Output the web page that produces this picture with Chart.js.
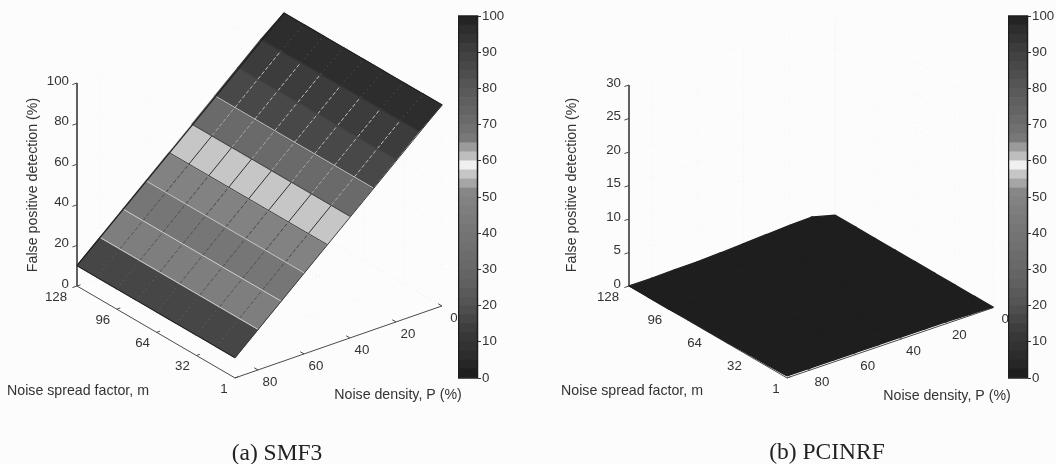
<!DOCTYPE html>
<html>
<head>
<meta charset="utf-8">
<title>False positive detection</title>
<script src="https://cdn.jsdelivr.net/npm/chart.js@4/dist/chart.umd.min.js"></script>
<style>
  html, body { margin: 0; padding: 0; background: #fcfcfc; overflow: hidden; }
  #page { position: relative; width: 1056px; height: 464px; }
  canvas { position: absolute; top: 0; }
</style>
</head>
<body>
<div id="page">
  <canvas id="panelA" width="528" height="464" style="left:0"></canvas>
  <canvas id="panelB" width="528" height="464" style="left:528px"></canvas>
  <canvas id="barA" width="60" height="464" style="left:458px"></canvas>
  <canvas id="barB" width="60" height="464" style="left:1008px"></canvas>
</div>
<script>
// axes
const pValues = [90, 80, 70, 60, 50, 40, 30, 20, 10, 0];
const mValues = [1, 16, 32, 48, 64, 80, 96, 112, 128];
const pTicks = [0, 20, 40, 60, 80];
const mTicks = [128, 96, 64, 32, 1];
const zTicksA = [0, 20, 40, 60, 80, 100];
const zTicksB = [0, 5, 10, 15, 20, 25, 30];
const barTicks = [0, 10, 20, 30, 40, 50, 60, 70, 80, 90, 100];

// (a) SMF3, height of each row of the surface (same across m)
const smf3Heights = [10, 20, 30, 40, 50, 60, 70, 80, 90, 99];
// colour value of each band, front to back
const smf3Bands = [16, 45, 42, 48, 57, 72, 85, 92, 96];

// (b) PCINRF, one row per P, one value per m
const pcinrfHeights = [
  [0.3, 0.2, 0.2, 0.1, 0.1, 0.1, 0, 0, 0],
  [0.3, 0.2, 0.2, 0.1, 0.1, 0.1, 0, 0, 0],
  [0.3, 0.3, 0.2, 0.2, 0.1, 0.1, 0.1, 0.1, 0.1],
  [0.3, 0.3, 0.2, 0.2, 0.2, 0.1, 0.1, 0.1, 0.15],
  [0.3, 0.3, 0.3, 0.2, 0.2, 0.2, 0.2, 0.2, 0.3],
  [0.3, 0.3, 0.3, 0.3, 0.3, 0.3, 0.3, 0.4, 0.5],
  [0.3, 0.3, 0.3, 0.3, 0.4, 0.4, 0.5, 0.6, 0.7],
  [0.3, 0.3, 0.3, 0.4, 0.5, 0.6, 0.7, 0.8, 0.9],
  [0.2, 0.2, 0.3, 0.4, 0.5, 0.7, 0.8, 0.9, 1.0],
  [0.1, 0.1, 0.1, 0.1, 0.1, 0.1, 0.1, 0.1, 0.1]
];

// colorbar grey levels, 2.5 % per step, from 0 to 100
const barGreys = [30, 38, 44, 50, 55, 62, 70, 78, 85, 90, 96, 100, 105, 108, 112, 115, 118, 122, 126, 130,
  135, 165, 198, 240, 190, 155, 120, 112, 106, 100, 95, 90, 85, 78, 72, 66, 60, 52, 45, 36];

// line styles of the mesh on (a)
const rowLineGreys = [30, 205, 210, 195, 60, 70, 195, 70, 55, 30];
const colLineGreys = [105, 85, 80, 70, 50, 165, 180, 190, 95];

const grey = g => `rgb(${g},${g},${g})`;
const shade = v => grey(barGreys[Math.min(barGreys.length - 1, Math.floor(v / 2.5))]);

// projection of the 3d box: the m=128,P=90,z=0 corner and the px per unit on each axis
function projector(view) {
  return (p, m, z) => ({
    x: view.x0 + (90 - p) * view.px + (128 - m) * view.mx,
    y: view.y0 - (90 - p) * view.py + (128 - m) * view.my - z * view.zy
  });
}

function line(points, color, width, dash) {
  return {
    data: points, showLine: true, pointRadius: 0, fill: false, tension: 0,
    borderColor: color, borderWidth: width, borderDash: dash || []
  };
}

function wallGrid(proj, zTicks) {
  const sets = [];
  const c = '#f2f2f2', dash = [1, 3];
  const zMax = zTicks[zTicks.length - 1];
  zTicks.forEach(z => {
    sets.push(line([proj(90, 128, z), proj(0, 128, z), proj(0, 1, z)], c, 1, dash));
  });
  pTicks.forEach(p => {
    sets.push(line([proj(p, 1, 0), proj(p, 128, 0), proj(p, 128, zMax)], c, 1, dash));
  });
  mTicks.forEach(m => {
    sets.push(line([proj(90, m, 0), proj(0, m, 0), proj(0, m, zMax)], c, 1, dash));
  });
  return sets;
}

function axes(proj, zTicks) {
  const c = '#4a4a4a';
  const zMax = zTicks[zTicks.length - 1];
  const sets = [
    line([proj(90, 128, zMax), proj(90, 128, 0)], c, 1),
    line([proj(90, 128, 0), proj(90, 1, 0)], c, 1),
    line([proj(90, 1, 0), proj(0, 1, 0)], c, 1)
  ];
  zTicks.forEach(z => sets.push(line([proj(90, 128, z), proj(92, 128, z)], c, 1)));
  mTicks.forEach(m => sets.push(line([proj(90, m, 0), proj(88.5, m, 0)], c, 1)));
  pTicks.forEach(p => sets.push(line([proj(p, 1, 0), proj(p, 4, 0)], c, 1)));
  return sets;
}

function cell(proj, heightAt, r, c, color) {
  const pts = [
    proj(pValues[r], mValues[c], heightAt(r, c)),
    proj(pValues[r], mValues[c + 1], heightAt(r, c + 1)),
    proj(pValues[r + 1], mValues[c + 1], heightAt(r + 1, c + 1)),
    proj(pValues[r + 1], mValues[c], heightAt(r + 1, c))
  ];
  pts.push(pts[0]);
  return {
    data: pts, showLine: true, pointRadius: 0, tension: 0, fill: 'shape',
    backgroundColor: color, borderColor: color, borderWidth: 1.2
  };
}

function surfaceA(proj) {
  const h = r => smf3Heights[r];
  const sets = [];
  smf3Bands.forEach((v, r) => {
    mValues.slice(0, -1).forEach((_, c) => sets.push(cell(proj, h, r, c, shade(v))));
  });
  // lines along P, one piece per band
  mValues.slice(1, -1).forEach(m => {
    smf3Bands.forEach((_, r) => {
      const dash = r === 0 || r === 8 ? [1, 4] : r === 4 ? [] : [4, 2];
      sets.push(line([proj(pValues[r], m, h(r)), proj(pValues[r + 1], m, h(r + 1))], grey(colLineGreys[r]), 1, dash));
    });
  });
  // lines along m
  smf3Heights.forEach((z, r) => {
    sets.push(line([proj(pValues[r], 128, z), proj(pValues[r], 1, z)], grey(rowLineGreys[r]), 1));
  });
  // outline on the two long sides
  sets.push(line([proj(90, 128, h(0)), proj(0, 128, h(9))], grey(30), 1.2));
  sets.push(line([proj(90, 1, h(0)), proj(0, 1, h(9))], grey(60), 1));
  return sets;
}

function surfaceB(proj) {
  const h = (r, c) => pcinrfHeights[r][c];
  const sets = [];
  pValues.slice(0, -1).forEach((_, r) => {
    mValues.slice(0, -1).forEach((_, c) => sets.push(cell(proj, h, r, c, shade(h(r, c)))));
  });
  return sets;
}

// axis text of one panel, placed with the chart's own scales
function textPlugin(proj, cfg) {
  return {
    id: 'panelText',
    afterDraw(chart) {
      const { ctx, scales } = chart;
      const at = pt => ({ x: scales.x.getPixelForValue(pt.x), y: scales.y.getPixelForValue(pt.y) });
      const put = (t, x, y, align) => { ctx.textAlign = align || 'center'; ctx.fillText(t, x, y); };
      ctx.save();
      ctx.fillStyle = '#333333';
      ctx.textBaseline = 'middle';
      ctx.font = '13.3px "Liberation Sans", Arial, sans-serif';
      cfg.zTicks.forEach(z => {
        const a = at(proj(90, 128, z));
        put(String(z), a.x - 8, a.y - 2, 'right');
      });
      mTicks.forEach(m => {
        const a = at(proj(90, m, 0));
        put(String(m), a.x + (m === 128 ? -21 : m === 1 ? -11 : -14), a.y + 11);
      });
      pTicks.forEach(p => {
        const a = at(proj(p, 1, 0));
        put(String(p), a.x + 12, a.y + 12);
      });
      ctx.font = cfg.titleFont;
      put('Noise spread factor, m', cfg.mTitle[0], cfg.mTitle[1]);
      put('Noise density, P (%)', cfg.pTitle[0], cfg.pTitle[1]);
      ctx.save();
      ctx.translate(cfg.zTitle[0], cfg.zTitle[1]);
      ctx.rotate(-Math.PI / 2);
      put('False positive detection (%)', 0, 0);
      ctx.restore();
      ctx.fillStyle = '#222222';
      ctx.font = '23.5px "Liberation Serif", "Times New Roman", serif';
      ctx.textBaseline = 'alphabetic';
      put(cfg.caption, cfg.capPos[0], cfg.capPos[1]);
      ctx.restore();
    }
  };
}

function makePanel(id, datasets, plugin) {
  return new Chart(document.getElementById(id), {
    type: 'scatter',
    // chart.js paints the last dataset first
    data: { datasets: datasets.reverse() },
    plugins: [plugin],
    options: {
      responsive: false,
      animation: false,
      layout: { padding: 0 },
      plugins: { legend: { display: false }, tooltip: { enabled: false } },
      scales: {
        x: { type: 'linear', min: 0, max: 528, display: false },
        y: { type: 'linear', min: 0, max: 464, reverse: true, display: false }
      }
    }
  });
}

function makeBar(id) {
  return new Chart(document.getElementById(id), {
    type: 'bar',
    data: {
      labels: [''],
      datasets: barGreys.map(g => ({
        data: [2.5], backgroundColor: grey(g), barPercentage: 1, categoryPercentage: 1, stack: 'bar'
      }))
    },
    plugins: [{
      id: 'barFrame',
      afterDatasetsDraw(chart) {
        const a = chart.chartArea, ctx = chart.ctx;
        ctx.save();
        ctx.strokeStyle = '#1e1e1e';
        ctx.lineWidth = 1.5;
        ctx.strokeRect(a.left + 0.5, a.top, a.right - a.left - 1, a.bottom - a.top);
        ctx.restore();
      }
    }],
    options: {
      responsive: false,
      animation: false,
      layout: { padding: { top: 16, bottom: 86, left: 0, right: 0 } },
      plugins: { legend: { display: false }, tooltip: { enabled: false } },
      scales: {
        x: { stacked: true, display: false },
        y: {
          stacked: true, min: 0, max: 100, position: 'right',
          afterFit(s) { s.width = 40; },
          afterBuildTicks(s) { s.ticks = barTicks.map(value => ({ value })); },
          border: { display: false },
          grid: { drawOnChartArea: false, tickLength: 3, color: '#333333' },
          ticks: { color: '#333333', padding: 1, font: { family: '"Liberation Sans", Arial, sans-serif', size: 13.3 } }
        }
      }
    }
  });
}

const projA = projector({ x0: 77, y0: 286, px: 2.3, py: 0.8, mx: 1.244, my: 0.724, zy: 2.03 });
const projB = projector({ x0: 101, y0: 286, px: 2.29, py: 0.78, mx: 1.244, my: 0.724, zy: 6.7 });

makePanel('panelA',
  [...wallGrid(projA, zTicksA), ...axes(projA, zTicksA), ...surfaceA(projA)],
  textPlugin(projA, {
    zTicks: zTicksA, titleFont: '14.2px "Liberation Sans", Arial, sans-serif',
    mTitle: [78, 391], pTitle: [398, 395], zTitle: [33, 185],
    caption: '(a) SMF3', capPos: [277, 460]
  }));

makePanel('panelB',
  [...wallGrid(projB, zTicksB), ...axes(projB, zTicksB), ...surfaceB(projB)],
  textPlugin(projB, {
    zTicks: zTicksB, titleFont: '14.2px "Liberation Sans", Arial, sans-serif',
    mTitle: [104, 391], pTitle: [419, 396], zTitle: [44, 185],
    caption: '(b) PCINRF', capPos: [299, 459]
  }));

makeBar('barA');
makeBar('barB');
</script>
</body>
</html>
